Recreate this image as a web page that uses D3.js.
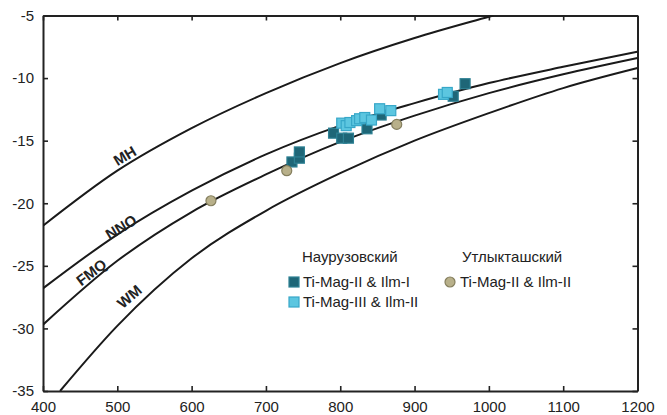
<!DOCTYPE html>
<html>
<head>
<meta charset="utf-8">
<script src="https://cdn.jsdelivr.net/npm/d3@7"></script>
<style>
  body { margin: 0; background: #fff; }
  svg text { font-family: "Liberation Sans", Arial, sans-serif; fill: #222; }
</style>
</head>
<body>
<div id="chart"></div>
<script>
var svgWidth = 667;
var svgHeight = 415;

var margin = { top: 15.5, right: 29.5, bottom: 24, left: 43 };
var width = svgWidth - margin.left - margin.right;
var height = svgHeight - margin.top - margin.bottom;

// buffer curves (T, °C  ->  log fO2)
var mhTemp = [400, 500, 600, 700, 800, 900, 1000, 1006];
var mhFo2 = [-21.8, -17.4, -14.0, -11.2, -8.8, -6.8, -5.1, -5.0];

var bufTemp = [400, 500, 600, 700, 800, 900, 1000, 1100, 1200];
var nnoFo2 = [-26.8, -22.5, -19.0, -16.1, -13.8, -12.0, -10.4, -9.1, -7.9];
var fmqFo2 = [-29.7, -24.6, -20.7, -17.7, -15.1, -13.0, -11.2, -9.7, -8.4];

var wmTemp = [423, 500, 600, 700, 800, 900, 1000, 1100, 1200];
var wmFo2 = [-35.0, -29.8, -24.4, -20.6, -17.6, -15.0, -12.8, -10.8, -9.2];

// Наурузовский: Ti-Mag-II & Ilm-I
var naurIT = [735, 745, 745, 791, 802, 811, 836, 855, 952, 968];
var naurIF = [-16.7, -16.4, -15.9, -14.4, -14.8, -14.8, -14.05, -12.95, -11.45, -10.45];
// Наурузовский: Ti-Mag-III & Ilm-II
var naurIIT = [802, 808, 813, 822, 826, 833, 842, 853, 868, 939, 944];
var naurIIF = [-13.6, -13.8, -13.55, -13.4, -13.25, -13.15, -13.35, -12.45, -12.6, -11.3, -11.15];
// Утлыкташский: Ti-Mag-II & Ilm-II
var utlT = [626, 728, 876];
var utlF = [-19.8, -17.4, -13.7];

var xTicks = [400, 500, 600, 700, 800, 900, 1000, 1100, 1200];
var yTicks = [-35, -30, -25, -20, -15, -10, -5];

var svg = d3.select("#chart")
  .append("svg")
  .attr("width", svgWidth)
  .attr("height", svgHeight);

var chartGroup = svg.append("g")
  .attr("transform", `translate(${margin.left}, ${margin.top})`);

var xLinearScale = d3.scaleLinear().domain([400, 1200]).range([0, width]);
var yLinearScale = d3.scaleLinear().domain([-35, -5]).range([height, 0]);

svg.append("defs").append("clipPath")
  .attr("id", "clip")
  .append("rect")
  .attr("width", width)
  .attr("height", height);

// axes, ticks inward on all four sides
var fmt = d => String(d);
var bottomAxis = d3.axisBottom(xLinearScale).tickValues(xTicks).tickSizeInner(-5).tickSizeOuter(0).tickPadding(10).tickFormat(fmt);
var topAxis = d3.axisTop(xLinearScale).tickValues(xTicks).tickSizeInner(-5).tickSizeOuter(0).tickFormat("");
var leftAxis = d3.axisLeft(yLinearScale).tickValues(yTicks).tickSizeInner(-5).tickSizeOuter(0).tickPadding(9).tickFormat(fmt);
var rightAxis = d3.axisRight(yLinearScale).tickValues(yTicks).tickSizeInner(-5).tickSizeOuter(0).tickFormat("");

function styleAxis(g) {
  g.select(".domain").attr("stroke", "#222").attr("stroke-width", 2);
  g.selectAll(".tick line").attr("stroke", "#222").attr("stroke-width", 1.6);
  g.selectAll(".tick text").style("font-size", "15px").attr("fill", "#2a2a2a");
}

chartGroup.append("g").attr("transform", `translate(0, ${height})`).call(bottomAxis).call(styleAxis);
chartGroup.append("g").call(topAxis).call(styleAxis);
chartGroup.append("g").call(leftAxis).call(styleAxis);
chartGroup.append("g").attr("transform", `translate(${width}, 0)`).call(rightAxis).call(styleAxis);

// buffer lines
var line = d3.line()
  .x(d => xLinearScale(d[0]))
  .y(d => yLinearScale(d[1]))
  .curve(d3.curveMonotoneX);

var buffers = [
  { t: mhTemp, f: mhFo2 },
  { t: bufTemp, f: nnoFo2 },
  { t: bufTemp, f: fmqFo2 },
  { t: wmTemp, f: wmFo2 }
];

chartGroup.append("g")
  .attr("clip-path", "url(#clip)")
  .selectAll("path")
  .data(buffers)
  .enter()
  .append("path")
  .attr("d", b => line(d3.zip(b.t, b.f)))
  .attr("fill", "none")
  .attr("stroke", "#1a1a1a")
  .attr("stroke-width", 2);

// buffer names
var bufNames = [
  { name: "MH", t: 510, f: -16.2, a: -31 },
  { name: "NNO", t: 505, f: -21.9, a: -31 },
  { name: "FMQ", t: 465, f: -25.5, a: -37 },
  { name: "WM", t: 516, f: -27.45, a: -41 }
];

chartGroup.selectAll(".bufLabel")
  .data(bufNames)
  .enter()
  .append("text")
  .attr("class", "bufLabel")
  .attr("transform", d => `translate(${xLinearScale(d.t)}, ${yLinearScale(d.f)}) rotate(${d.a})`)
  .attr("text-anchor", "middle")
  .attr("dy", "0.36em")
  .style("font-size", "15px")
  .style("font-weight", "bold")
  .text(d => d.name);

// points
var darkFill = "#1e6677", darkStroke = "#2d8194";
var lightFill = "#5cc6e0", lightStroke = "#37a7c8";
var circFill = "#b8b08a", circStroke = "#857f5e";
var sq = 10;

function squares(ts, fs, fill, stroke) {
  chartGroup.append("g")
    .selectAll("rect")
    .data(d3.zip(ts, fs))
    .enter()
    .append("rect")
    .attr("x", d => xLinearScale(d[0]) - sq / 2)
    .attr("y", d => yLinearScale(d[1]) - sq / 2)
    .attr("width", sq)
    .attr("height", sq)
    .attr("fill", fill)
    .attr("stroke", stroke)
    .attr("stroke-width", 1.2);
}

squares(naurIT, naurIF, darkFill, darkStroke);
squares(naurIIT, naurIIF, lightFill, lightStroke);

chartGroup.append("g")
  .selectAll("circle")
  .data(d3.zip(utlT, utlF))
  .enter()
  .append("circle")
  .attr("cx", d => xLinearScale(d[0]))
  .attr("cy", d => yLinearScale(d[1]))
  .attr("r", 5)
  .attr("fill", circFill)
  .attr("stroke", circStroke)
  .attr("stroke-width", 1.2);

// legend
var legend = svg.append("g");

legend.append("text").attr("x", 302).attr("y", 262).style("font-size", "15px").text("Наурузовский");
legend.append("text").attr("x", 462).attr("y", 262).style("font-size", "15px").text("Утлыкташский");

legend.append("rect").attr("x", 289).attr("y", 277).attr("width", 10).attr("height", 10)
  .attr("fill", darkFill).attr("stroke", darkStroke).attr("stroke-width", 1.2);
legend.append("text").attr("x", 303).attr("y", 287).style("font-size", "15px").text("Ti-Mag-II & Ilm-I");

legend.append("rect").attr("x", 289).attr("y", 297).attr("width", 10).attr("height", 10)
  .attr("fill", lightFill).attr("stroke", lightStroke).attr("stroke-width", 1.2);
legend.append("text").attr("x", 303).attr("y", 307).style("font-size", "15px").text("Ti-Mag-III & Ilm-II");

legend.append("circle").attr("cx", 450).attr("cy", 282).attr("r", 5)
  .attr("fill", circFill).attr("stroke", circStroke).attr("stroke-width", 1.2);
legend.append("text").attr("x", 460).attr("y", 287).style("font-size", "15px").text("Ti-Mag-II & Ilm-II");
</script>
</body>
</html>
